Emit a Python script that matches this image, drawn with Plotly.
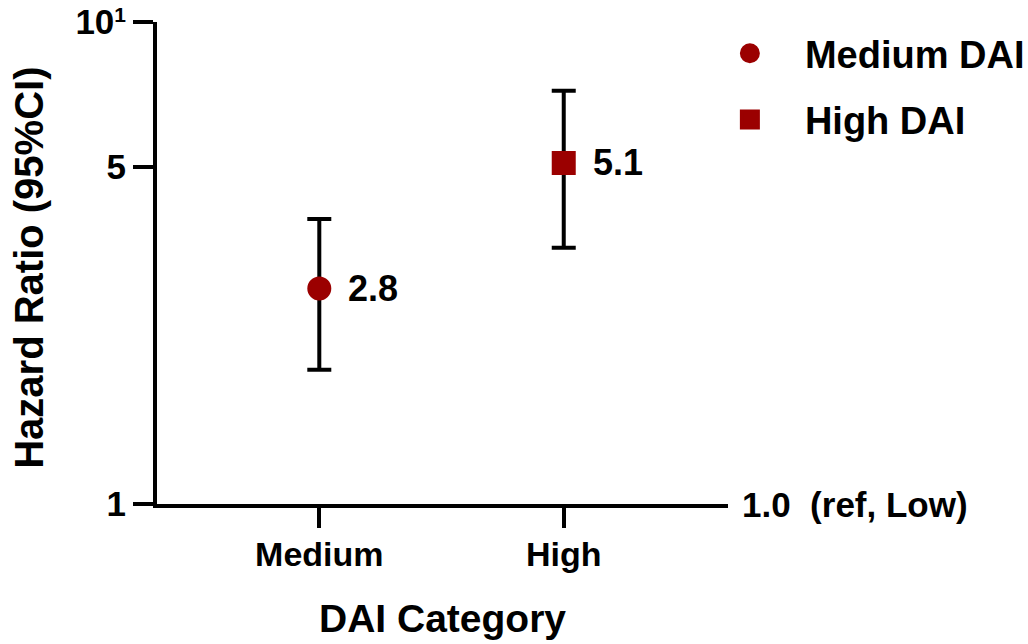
import math
import plotly.graph_objects as go

# Hazard ratios by DAI category (reference group: Low DAI = 1.0)
categories = ["Medium", "High"]
series_names = ["Medium DAI", "High DAI"]
hazard_ratio = [2.8, 5.1]
ci_lower = [1.9, 3.4]
ci_upper = [3.9, 7.2]
symbols = ["circle", "square"]

y_tickvals = [1, 5, 10]
y_ticktext = ["1", "5", "10<span style='font-size:30px'><sup>1</sup></span>"]

FONT = "Liberation Sans, Arial, sans-serif"
RED = "#9B0000"

fig = go.Figure()

for cat, name, hr, lo, hi, sym in zip(categories, series_names, hazard_ratio,
                                       ci_lower, ci_upper, symbols):
    fig.add_trace(go.Scatter(
        x=[cat], y=[hr], name=name, legendgroup=name, mode="markers",
        marker=dict(symbol=sym, size=20, color=RED,
                    line=dict(color=RED, width=4)),
        error_y=dict(type="data", symmetric=False,
                     array=[hi - hr], arrayminus=[hr - lo],
                     color="black", thickness=4, width=12),
    ))
    fig.add_annotation(
        x=cat, y=math.log10(hr), text=f"{hr:.1f}", showarrow=False,
        xanchor="left", yanchor="middle", xshift=27,
        font=dict(family=FONT, size=36, color="black", weight="bold"),
    )

# reference level label at the right end of the x axis
fig.add_annotation(
    xref="paper", x=1, y=0, text="1.0\u00a0\u00a0(ref, Low)", showarrow=False,
    xanchor="left", yanchor="middle", xshift=12,
    font=dict(family=FONT, size=35, color="black", weight="bold"),
)

# y-axis title, placed in the left margin
fig.add_annotation(
    xref="paper", yref="paper", x=0, y=0.49, xshift=-128,
    text="Hazard Ratio (95%CI)", textangle=-90, showarrow=False,
    xanchor="center", yanchor="middle",
    font=dict(family=FONT, size=40, color="black", weight="bold"),
)

fig.update_layout(
    width=1028, height=644,
    margin=dict(l=157, r=300, t=22, b=140, autoexpand=False),
    paper_bgcolor="white", plot_bgcolor="white",
    font=dict(family=FONT, color="black", weight="bold"),
    showlegend=True,
    legend=dict(
        x=0.942, y=1.0, xanchor="left", yanchor="top",
        font=dict(family=FONT, size=38, color="black", weight="bold"),
        itemwidth=100, traceorder="grouped", tracegroupgap=14,
        bgcolor="rgba(0,0,0,0)",
    ),
    xaxis=dict(
        type="category", range=[-0.664, 1.672], automargin=False,
        showgrid=False, zeroline=False,
        showline=True, linecolor="black", linewidth=4,
        ticks="outside", ticklen=20, tickwidth=4, tickcolor="black",
        ticklabelstandoff=-3,
        tickfont=dict(family=FONT, size=34, color="black", weight="bold"),
        title=dict(text="DAI Category", standoff=34,
                   font=dict(family=FONT, size=39, color="black", weight="bold")),
    ),
    yaxis=dict(
        type="log", range=[0, 1], automargin=False,
        showgrid=False, zeroline=False,
        showline=True, linecolor="black", linewidth=4,
        ticks="outside", ticklen=20, tickwidth=4, tickcolor="black",
        tickvals=y_tickvals, ticktext=y_ticktext,
        ticklabeloverflow="allow",
        tickfont=dict(family=FONT, size=35, color="black", weight="bold"),
    ),
)

fig.write_html("out.html")
